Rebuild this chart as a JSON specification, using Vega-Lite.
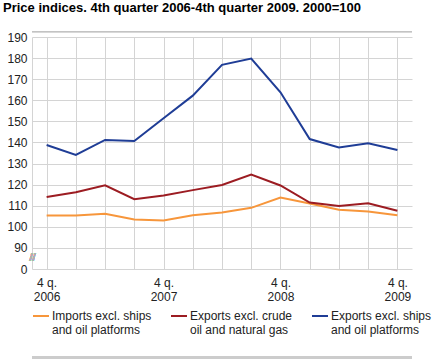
{
  "$schema": "https://vega.github.io/schema/vega-lite/v6.json",
  "width": 380,
  "height": 232,
  "autosize": {"type": "none"},
  "padding": {"left": 32, "top": 37, "right": 28, "bottom": 90},
  "background": "white",
  "title": {
    "text": "Price indices. 4th quarter 2006-4th quarter 2009. 2000=100",
    "anchor": "start",
    "dx": -4,
    "fontSize": 13,
    "fontWeight": "bold",
    "font": "Liberation Sans",
    "color": "#000000",
    "baseline": "alphabetic",
    "offset": 6
  },
  "data": {
    "values": [
      {"quarter": "2006Q4", "series": "Imports excl. ships and oil platforms", "value": 105.4},
      {"quarter": "2007Q1", "series": "Imports excl. ships and oil platforms", "value": 105.4},
      {"quarter": "2007Q2", "series": "Imports excl. ships and oil platforms", "value": 106.2},
      {"quarter": "2007Q3", "series": "Imports excl. ships and oil platforms", "value": 103.5},
      {"quarter": "2007Q4", "series": "Imports excl. ships and oil platforms", "value": 103.0},
      {"quarter": "2008Q1", "series": "Imports excl. ships and oil platforms", "value": 105.5},
      {"quarter": "2008Q2", "series": "Imports excl. ships and oil platforms", "value": 106.8},
      {"quarter": "2008Q3", "series": "Imports excl. ships and oil platforms", "value": 109.0},
      {"quarter": "2008Q4", "series": "Imports excl. ships and oil platforms", "value": 113.9},
      {"quarter": "2009Q1", "series": "Imports excl. ships and oil platforms", "value": 111.1},
      {"quarter": "2009Q2", "series": "Imports excl. ships and oil platforms", "value": 108.1},
      {"quarter": "2009Q3", "series": "Imports excl. ships and oil platforms", "value": 107.3},
      {"quarter": "2009Q4", "series": "Imports excl. ships and oil platforms", "value": 105.5},
      {"quarter": "2006Q4", "series": "Exports excl. crude oil and natural gas", "value": 114.1},
      {"quarter": "2007Q1", "series": "Exports excl. crude oil and natural gas", "value": 116.4},
      {"quarter": "2007Q2", "series": "Exports excl. crude oil and natural gas", "value": 119.7},
      {"quarter": "2007Q3", "series": "Exports excl. crude oil and natural gas", "value": 113.1},
      {"quarter": "2007Q4", "series": "Exports excl. crude oil and natural gas", "value": 114.8},
      {"quarter": "2008Q1", "series": "Exports excl. crude oil and natural gas", "value": 117.4},
      {"quarter": "2008Q2", "series": "Exports excl. crude oil and natural gas", "value": 119.8},
      {"quarter": "2008Q3", "series": "Exports excl. crude oil and natural gas", "value": 124.8},
      {"quarter": "2008Q4", "series": "Exports excl. crude oil and natural gas", "value": 119.6},
      {"quarter": "2009Q1", "series": "Exports excl. crude oil and natural gas", "value": 111.5},
      {"quarter": "2009Q2", "series": "Exports excl. crude oil and natural gas", "value": 109.9},
      {"quarter": "2009Q3", "series": "Exports excl. crude oil and natural gas", "value": 111.2},
      {"quarter": "2009Q4", "series": "Exports excl. crude oil and natural gas", "value": 107.6},
      {"quarter": "2006Q4", "series": "Exports excl. ships and oil platforms", "value": 138.8},
      {"quarter": "2007Q1", "series": "Exports excl. ships and oil platforms", "value": 134.1},
      {"quarter": "2007Q2", "series": "Exports excl. ships and oil platforms", "value": 141.2},
      {"quarter": "2007Q3", "series": "Exports excl. ships and oil platforms", "value": 140.7},
      {"quarter": "2007Q4", "series": "Exports excl. ships and oil platforms", "value": 151.5},
      {"quarter": "2008Q1", "series": "Exports excl. ships and oil platforms", "value": 162.2},
      {"quarter": "2008Q2", "series": "Exports excl. ships and oil platforms", "value": 176.8},
      {"quarter": "2008Q3", "series": "Exports excl. ships and oil platforms", "value": 179.8},
      {"quarter": "2008Q4", "series": "Exports excl. ships and oil platforms", "value": 163.8},
      {"quarter": "2009Q1", "series": "Exports excl. ships and oil platforms", "value": 141.6},
      {"quarter": "2009Q2", "series": "Exports excl. ships and oil platforms", "value": 137.6},
      {"quarter": "2009Q3", "series": "Exports excl. ships and oil platforms", "value": 139.6},
      {"quarter": "2009Q4", "series": "Exports excl. ships and oil platforms", "value": 136.4}
    ]
  },
  "layer": [
    {
      "mark": {"type": "line", "strokeWidth": 2, "clip": false},
      "encoding": {
        "x": {
          "field": "quarter",
          "type": "ordinal",
          "scale": {"type": "point", "padding": 0.5},
          "axis": {
            "title": null,
            "orient": "bottom",
            "domain": false,
            "ticks": false,
            "grid": true,
            "gridColor": "#d4d4d4",
            "gridWidth": 1,
            "labelAngle": 0,
            "labelFont": "Liberation Sans",
            "labelFontSize": 12,
            "labelColor": "#222222",
            "labelPadding": 8,
            "labelLineHeight": 14,
            "labelBaseline": "top",
            "labelOverlap": false,
            "labelExpr": "indexof(datum.label, 'Q4') > 0 ? ['4 q.', substring(datum.label, 0, 4)] : ''"
          }
        },
        "y": {
          "field": "value",
          "type": "quantitative",
          "scale": {"domain": [80, 190], "nice": false, "zero": false},
          "axis": {
            "title": null,
            "values": [80, 90, 100, 110, 120, 130, 140, 150, 160, 170, 180, 190],
            "domain": true,
            "domainColor": "#d4d4d4",
            "ticks": false,
            "grid": true,
            "gridColor": "#d4d4d4",
            "gridWidth": 1,
            "labelFont": "Liberation Sans",
            "labelFontSize": 12,
            "labelColor": "#222222",
            "labelPadding": 5,
            "labelOverlap": false,
            "labelExpr": "datum.value == 80 ? '0' : datum.label"
          }
        },
        "color": {
          "field": "series",
          "type": "nominal",
          "scale": {
            "domain": [
              "Imports excl. ships and oil platforms",
              "Exports excl. crude oil and natural gas",
              "Exports excl. ships and oil platforms"
            ],
            "range": ["#f7963b", "#9c1c22", "#1f3d96"]
          },
          "legend": {
            "title": null,
            "orient": "bottom",
            "direction": "horizontal",
            "offset": 5,
            "symbolType": "stroke",
            "symbolSize": 256,
            "symbolStrokeWidth": 2,
            "labelFont": "Liberation Sans",
            "labelFontSize": 12,
            "labelColor": "#222222",
            "labelLimit": 300,
            "labelOffset": 2,
            "labelBaseline": "middle",
            "columnPadding": 15,
            "labelExpr": "datum.label == 'Imports excl. ships and oil platforms' ? ['Imports excl. ships', 'and oil platforms'] : datum.label == 'Exports excl. crude oil and natural gas' ? ['Exports excl. crude', 'oil and natural gas'] : ['Exports excl. ships', 'and oil platforms']"
          }
        }
      }
    },
    {
      "mark": {"type": "rule", "stroke": "#c4c4c4", "strokeWidth": 1, "clip": false, "zindex": 1},
      "encoding": {
        "y": {
          "datum": 192.6,
          "type": "quantitative",
          "axis": {
            "title": null,
            "values": [80, 90, 100, 110, 120, 130, 140, 150, 160, 170, 180, 190],
            "domain": true,
            "domainColor": "#d4d4d4",
            "ticks": false,
            "grid": true,
            "gridColor": "#d4d4d4",
            "gridWidth": 1,
            "labelFont": "Liberation Sans",
            "labelFontSize": 12,
            "labelColor": "#222222",
            "labelPadding": 5,
            "labelOverlap": false,
            "labelExpr": "datum.value == 80 ? '0' : datum.label"
          }
        }
      }
    },
    {
      "mark": {"type": "rule", "stroke": "#cccccc", "strokeWidth": 3, "clip": false},
      "encoding": {
        "y": {
          "datum": 37.8,
          "type": "quantitative",
          "axis": {
            "title": null,
            "values": [80, 90, 100, 110, 120, 130, 140, 150, 160, 170, 180, 190],
            "domain": true,
            "domainColor": "#d4d4d4",
            "ticks": false,
            "grid": true,
            "gridColor": "#d4d4d4",
            "gridWidth": 1,
            "labelFont": "Liberation Sans",
            "labelFontSize": 12,
            "labelColor": "#222222",
            "labelPadding": 5,
            "labelOverlap": false,
            "labelExpr": "datum.value == 80 ? '0' : datum.label"
          }
        }
      }
    },
    {
      "mark": {"type": "text", "text": "//", "dx": -14, "fontSize": 11, "color": "#b0b0b0", "font": "Liberation Sans"},
      "encoding": {
        "x": {
          "datum": "2006Q4",
          "type": "ordinal",
          "axis": {
            "title": null,
            "orient": "bottom",
            "domain": false,
            "ticks": false,
            "grid": true,
            "gridColor": "#d4d4d4",
            "gridWidth": 1,
            "labelAngle": 0,
            "labelFont": "Liberation Sans",
            "labelFontSize": 12,
            "labelColor": "#222222",
            "labelPadding": 8,
            "labelLineHeight": 14,
            "labelBaseline": "top",
            "labelOverlap": false,
            "labelExpr": "indexof(datum.label, 'Q4') > 0 ? ['4 q.', substring(datum.label, 0, 4)] : ''"
          }
        },
        "y": {
          "datum": 85,
          "type": "quantitative",
          "axis": {
            "title": null,
            "values": [80, 90, 100, 110, 120, 130, 140, 150, 160, 170, 180, 190],
            "domain": true,
            "domainColor": "#d4d4d4",
            "ticks": false,
            "grid": true,
            "gridColor": "#d4d4d4",
            "gridWidth": 1,
            "labelFont": "Liberation Sans",
            "labelFontSize": 12,
            "labelColor": "#222222",
            "labelPadding": 5,
            "labelOverlap": false,
            "labelExpr": "datum.value == 80 ? '0' : datum.label"
          }
        }
      }
    }
  ],
  "config": {
    "view": {"stroke": null},
    "font": "Liberation Sans"
  }
}
